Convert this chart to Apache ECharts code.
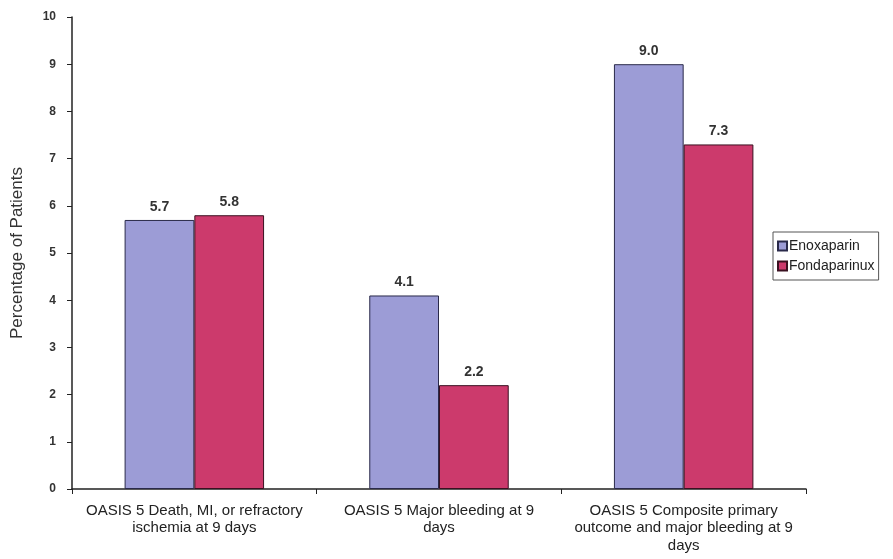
<!DOCTYPE html>
<html><head><meta charset="utf-8">
<script src="https://cdn.jsdelivr.net/npm/echarts@6/dist/echarts.min.js"></script>
<style>html,body{margin:0;padding:0;background:#fff}#c{width:893px;height:559px}</style>
</head><body><div id="c"></div>
<script>
const categories = ["OASIS 5 Death, MI, or refractory\nischemia at 9 days", "OASIS 5 Major bleeding at 9\ndays", "OASIS 5 Composite primary\noutcome and major bleeding at 9\ndays"];
const enoxaparin = [5.7, 4.1, 9.0];
const fondaparinux = [5.8, 2.2, 7.3];
const seriesNames = ["Enoxaparin", "Fondaparinux"];
const chart = echarts.init(document.getElementById('c'));
const font = 'Liberation Sans, Arial, sans-serif';
const lbl = {show: true, position: 'top', formatter: p => p.value.toFixed(1), fontFamily: font, fontSize: 14, fontWeight: 'bold', color: '#333', distance: 6};
chart.setOption({
  animation: false,
  backgroundColor: '#fff',
  grid: {left: 72, right: 87, top: 17, bottom: 70},
  legend: {
    orient: 'vertical', left: 773, top: 232, itemWidth: 9, itemHeight: 9, itemGap: 6,
    borderColor: '#555', borderWidth: 1, padding: [7, 4, 7, 4],
    textStyle: {fontFamily: font, fontSize: 14, color: '#222', padding: [0, 0, 0, -3]},
    data: [{name: seriesNames[0], icon: 'rect'}, {name: seriesNames[1], icon: 'rect'}]
  },
  xAxis: {
    type: 'category', data: categories,
    axisLine: {lineStyle: {color: '#222', width: 1.5}},
    axisTick: {show: true, length: 5, lineStyle: {color: '#222'}},
    axisLabel: {fontFamily: font, fontSize: 15, color: '#222', lineHeight: 17.5, margin: 13, interval: 0}
  },
  yAxis: {
    type: 'value', min: 0, max: 10, interval: 1,
    name: 'Percentage of Patients', nameLocation: 'middle', nameGap: 46,
    nameTextStyle: {fontFamily: font, fontSize: 17, color: '#333'},
    axisLine: {show: true, lineStyle: {color: '#222', width: 1.5}},
    axisTick: {show: true, length: 5, lineStyle: {color: '#222'}},
    axisLabel: {fontFamily: font, fontSize: 12, fontWeight: 'bold', color: '#333', margin: 16},
    splitLine: {show: false}
  },
  series: [
    {name: seriesNames[0], type: 'bar', data: enoxaparin, barCategoryGap: '43%', barGap: '0%',
     itemStyle: {color: '#9c9cd6', borderColor: '#2a2a4a', borderWidth: 1}, label: lbl},
    {name: seriesNames[1], type: 'bar', data: fondaparinux,
     itemStyle: {color: '#cc3a6c', borderColor: '#3a1020', borderWidth: 1}, label: lbl}
  ]
});
</script></body></html>
